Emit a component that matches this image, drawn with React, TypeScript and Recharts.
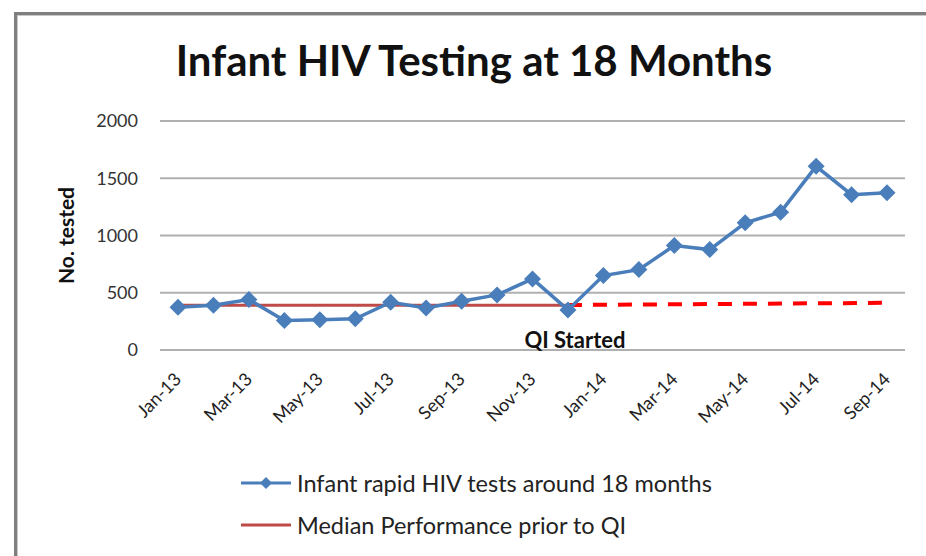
import React from "react";
import { LineChart, Line, XAxis, YAxis, CartesianGrid, Legend, ReferenceDot } from "recharts";

const months = [
  "Jan-13", "Feb-13", "Mar-13", "Apr-13", "May-13", "Jun-13", "Jul-13", "Aug-13", "Sep-13", "Oct-13", "Nov-13", "Dec-13",
  "Jan-14", "Feb-14", "Mar-14", "Apr-14", "May-14", "Jun-14", "Jul-14", "Aug-14", "Sep-14",
];
const rapidTests = [373, 390, 440, 258, 264, 273, 417, 367, 426, 481, 621, 350, 650, 702, 912, 877, 1111, 1204, 1604, 1356, 1374];
const medianPrior = [390, 390, 390, 390, 390, 390, 390, 390, 390, 390, 390, 390, null, null, null, null, null, null, null, null, null];
const medianAfter = [null, null, null, null, null, null, null, null, null, null, null, 393, null, null, null, null, null, null, null, null, 412];
const yTicks = [0, 500, 1000, 1500, 2000];

const FONT = "Lato, 'Liberation Sans', sans-serif";
const BLUE = "#4A7EBB";
const RED = "#BE4B48";

const data = months.map((m, i) => ({
  month: m,
  tests: rapidTests[i],
  median: medianPrior[i],
  medianQI: medianAfter[i],
}));

function Diamond(props: any) {
  const { cx, cy } = props;
  if (cx == null || cy == null) return null;
  const r = 8.5;
  return <path d={`M${cx},${cy - r}L${cx + r},${cy}L${cx},${cy + r}L${cx - r},${cy}Z`} fill={BLUE} />;
}

function MonthTick(props: any) {
  const { x, y, payload } = props;
  return (
    <g transform={`translate(${x},${y + 26})`}>
      <text transform="rotate(-45)" textAnchor="end" dy="0.35em" fontFamily={FONT} fontSize={18} fill="#222">
        {payload.value}
      </text>
    </g>
  );
}

function LegendBox(props: any) {
  const items = (props.payload || []).filter((p: any) => p.type !== "none");
  return (
    <div style={{ fontFamily: FONT, fontSize: 23.5, color: "#222" }}>
      {items.map((p: any) => (
        <div key={p.value} style={{ display: "flex", alignItems: "center", height: 42 }}>
          <svg width={55} height={20} style={{ marginRight: 1 }}>
            <line x1={0} y1={10} x2={50} y2={10} stroke={p.color} strokeWidth={3} />
            {p.dataKey === "tests" && <path d="M25,4L31,10L25,16L19,10Z" fill={BLUE} />}
          </svg>
          <span>{p.value}</span>
        </div>
      ))}
    </div>
  );
}

export default function App() {
  return (
    <div style={{ position: "absolute", left: 0, top: 0, width: 926, height: 556, background: "#fff", overflow: "hidden" }}>
      <div
        style={{
          position: "absolute",
          left: 14,
          top: 12,
          width: 960,
          height: 600,
          borderTop: "3px solid #7f7f7f",
          borderLeft: "3px solid #7f7f7f",
          boxShadow: "inset 1px 1px 0 #c8c8c8",
        }}
      />
      <div
        style={{
          position: "absolute",
          left: 0,
          width: 948,
          top: 35,
          textAlign: "center",
          fontFamily: FONT,
          fontWeight: 700,
          fontSize: 42,
          color: "#111",
        }}
      >
        Infant HIV Testing at 18 Months
      </div>
      <div style={{ position: "absolute", left: 0, top: 0 }}>
        <LineChart width={926} height={556} data={data} margin={{ top: 121, right: 21, bottom: 146, left: 0 }}>
          <CartesianGrid vertical={false} stroke="#b0b0b0" strokeWidth={2} />
          <XAxis
            dataKey="month"
            interval={1}
            padding={{ left: 18, right: 18 }}
            axisLine={false}
            tickLine={false}
            tickSize={0}
            tickMargin={0}
            height={60}
            tick={<MonthTick />}
          />
          <YAxis
            domain={[0, 2000]}
            ticks={yTicks}
            width={160}
            axisLine={false}
            tickLine={false}
            tickSize={0}
            tickMargin={22}
            tick={{ fontFamily: FONT, fontSize: 18, fill: "#333" }}
            label={({ viewBox }: any) => (
              <text
                x={viewBox.x + 65}
                y={viewBox.y + viewBox.height / 2}
                transform={`rotate(-90 ${viewBox.x + 65} ${viewBox.y + viewBox.height / 2})`}
                textAnchor="middle"
                dominantBaseline="central"
                fontFamily={FONT}
                fontWeight={700}
                fontSize={21}
                fill="#111"
              >
                No. tested
              </text>
            )}
          />
          <Line
            dataKey="medianQI"
            stroke="#FF0000"
            strokeWidth={4}
            strokeDasharray="14 11"
            connectNulls
            dot={false}
            legendType="none"
            isAnimationActive={false}
          />
          <Line
            dataKey="median"
            name="Median Performance prior to QI"
            stroke={RED}
            strokeWidth={3}
            dot={false}
            isAnimationActive={false}
          />
          <Line
            dataKey="tests"
            name="Infant rapid HIV tests around 18 months"
            stroke={BLUE}
            strokeWidth={3.5}
            dot={<Diamond />}
            activeDot={false}
            isAnimationActive={false}
          />
          <ReferenceDot
            x="Dec-13"
            y={0}
            r={0}
            fill="none"
            stroke="none"
            label={{ value: "QI Started", position: "top", offset: 2, dx: 7, fontFamily: FONT, fontWeight: 700, fontSize: 22, fill: "#111" }}
          />
          <Legend
            layout="horizontal"
            verticalAlign="middle"
            align="center"
            wrapperStyle={{ top: 462, left: 241, width: 600 }}
            content={<LegendBox />}
          />
        </LineChart>
      </div>
    </div>
  );
}
